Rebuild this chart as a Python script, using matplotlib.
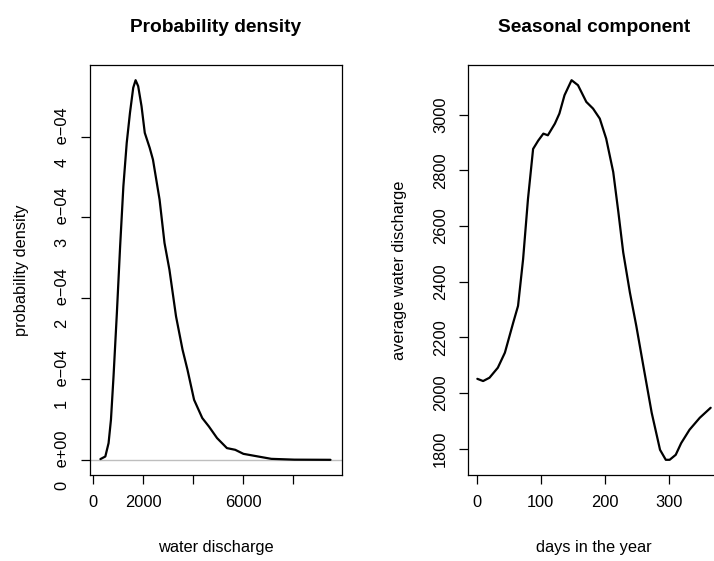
import numpy as np
import matplotlib
matplotlib.use("Agg")
import matplotlib.pyplot as plt

plt.rcParams["font.family"] = ["Liberation Sans", "DejaVu Sans"]

# ── Data ──
discharge = [296, 493, 623, 718, 821, 955, 1085, 1215, 1349, 1479, 1609, 1704,
             1807, 1941, 2071, 2268, 2398, 2663, 2860, 3057, 3321, 3582, 3779,
             4043, 4371, 4635, 4962, 5357, 5688, 6016, 6607, 7132, 8055, 9499]
density_e4 = [0.009, 0.041, 0.207, 0.496, 1.032, 1.818, 2.643, 3.387, 3.924,
              4.296, 4.606, 4.700, 4.626, 4.378, 4.048, 3.862, 3.717, 3.222,
              2.685, 2.354, 1.776, 1.363, 1.115, 0.743, 0.517, 0.413, 0.269,
              0.145, 0.124, 0.074, 0.041, 0.012, 0.002, 0.000]

days = [1, 10, 20, 33, 44, 57, 64.5, 72.4, 80, 88, 96, 104, 111, 122, 129, 137,
        148, 158, 171, 181.5, 192, 202, 213, 221, 228.6, 239, 249, 260, 273, 286,
        295, 301, 310.5, 319, 332, 348, 365]
seasonal = [2051, 2043, 2055, 2091, 2145, 2253, 2313, 2481, 2697, 2877, 2907,
            2932, 2926, 2968, 3004, 3070, 3124, 3106, 3046, 3022, 2986, 2914,
            2794, 2650, 2505, 2361, 2241, 2097, 1929, 1796, 1760, 1760, 1778,
            1820, 1868, 1911, 1947]

dens_ticks = [0, 1, 2, 3, 4]
dens_labels = ["0   e+00", "1   e\u221204", "2   e\u221204", "3   e\u221204", "4   e\u221204"]
x1_ticks = [0, 2000, 4000, 6000, 8000]
x1_labels = ["0", "2000", "", "6000", ""]
x2_ticks = [0, 100, 200, 300]
y2_ticks = [1800, 2000, 2200, 2400, 2600, 2800, 3000]

W, H = 714, 561
fig = plt.figure(figsize=(W / 100, H / 100), dpi=100)

def px_axes(left, top, right, bottom):
    return fig.add_axes([left / W, 1 - bottom / H, (right - left) / W, (bottom - top) / H])

ax1 = px_axes(90, 65, 342, 475)
ax2 = px_axes(468, 65, 720, 475)

fs = 11.8
for ax in (ax1, ax2):
    for s in ax.spines.values():
        s.set_linewidth(0.9)
    ax.tick_params(length=6.5, width=0.9, labelsize=fs, pad=8)

line_kw = dict(color="black", lw=1.6, solid_joinstyle="round", solid_capstyle="round")

# left: probability density
dens = np.array(density_e4) * 1e-4
ax1.plot(discharge, dens, **line_kw)
ax1.axhline(0, color="#bebebe", lw=1.0, zorder=0)
ymax = max(dens)
ax1.set_ylim(-0.04 * ymax, 1.04 * ymax)
ax1.set_xlim(-120, 9960)
ax1.set_xticks(x1_ticks)
ax1.set_xticklabels(x1_labels)
ax1.set_yticks(np.array(dens_ticks) * 1e-4)
ax1.set_yticklabels(dens_labels, rotation=90, va="center")
ax1.set_xlabel("water discharge", fontsize=fs)
ax1.xaxis.set_label_coords(0.5, -0.178)
ax1.xaxis.label.set_va("center")
ax1.set_ylabel("probability density", fontsize=fs)
ax1.yaxis.set_label_coords(-0.27, 0.5)
ax1.yaxis.label.set_va("center")
ax1.set_title("Probability density", fontsize=13.8, fontweight="bold", pad=24)

# right: seasonal component
ax2.plot(days, seasonal, **line_kw)
lo, hi = min(seasonal), max(seasonal)
ax2.set_ylim(lo - 0.04 * (hi - lo), hi + 0.04 * (hi - lo))
ax2.set_xlim(1 - 0.04 * 364, 365 + 0.04 * 364)
ax2.set_xticks(x2_ticks)
ax2.set_yticks(y2_ticks)
ax2.set_yticklabels([str(v) for v in y2_ticks], rotation=90, va="center")
ax2.set_xlabel("days in the year", fontsize=fs)
ax2.xaxis.set_label_coords(0.5, -0.178)
ax2.xaxis.label.set_va("center")
ax2.set_ylabel("average water discharge", fontsize=fs)
ax2.yaxis.set_label_coords(-0.27, 0.5)
ax2.yaxis.label.set_va("center")
ax2.set_title("Seasonal component", fontsize=13.8, fontweight="bold", pad=24)

fig.savefig("out.png", dpi=100)
